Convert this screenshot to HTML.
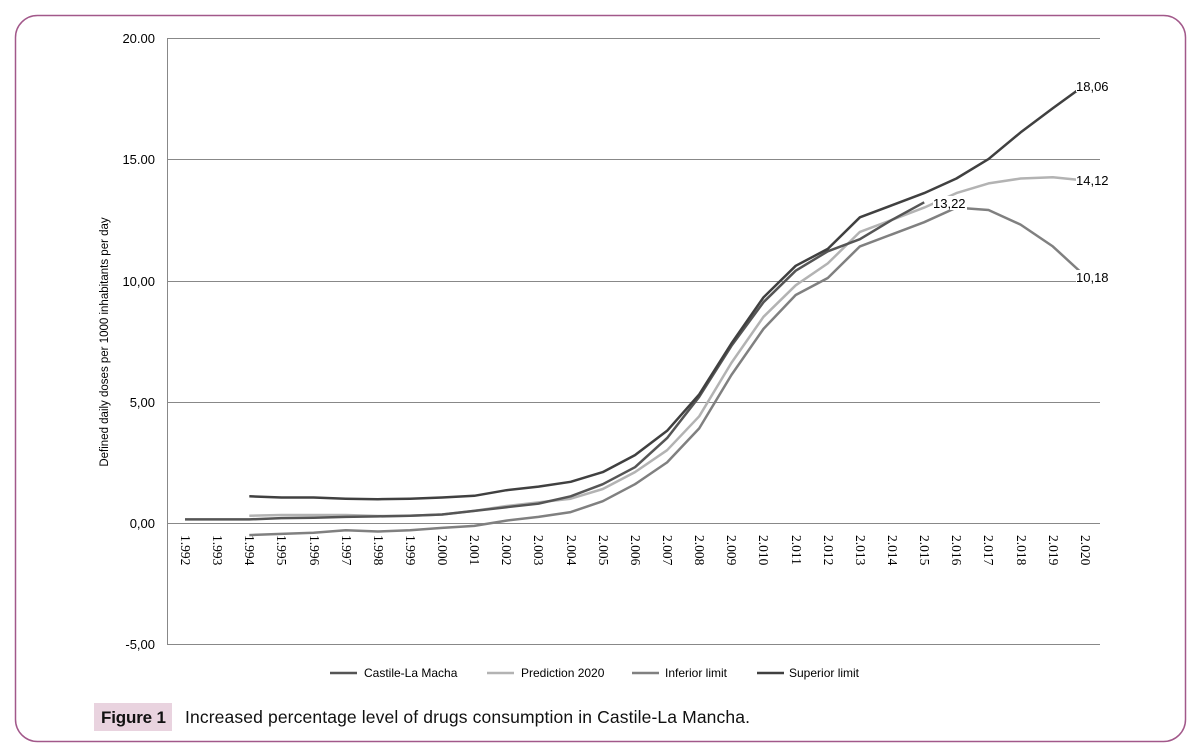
<!DOCTYPE html><html><head><style>
body{margin:0;background:#fff;width:1200px;height:749px;overflow:hidden;font-family:"Liberation Sans",Arial,sans-serif}
</style></head><body>
<svg width="1200" height="749" xmlns="http://www.w3.org/2000/svg">
<rect x="15.5" y="15.5" width="1170" height="726" rx="22" fill="none" stroke="#a2588a" stroke-width="1.5"/>
<g stroke="#888" stroke-width="1">
<line x1="167" y1="38.5" x2="1100" y2="38.5"/>
<line x1="167" y1="159.5" x2="1100" y2="159.5"/>
<line x1="167" y1="281.5" x2="1100" y2="281.5"/>
<line x1="167" y1="402.5" x2="1100" y2="402.5"/>
<line x1="167" y1="523.5" x2="1100" y2="523.5"/>
<line x1="167" y1="644.5" x2="1100" y2="644.5"/>
<line x1="167.5" y1="38" x2="167.5" y2="644"/>
</g>
<g font-size="13" text-anchor="end" fill="#000">
<text x="155" y="43">20.00</text><text x="155" y="164">15.00</text><text x="155" y="286">10,00</text>
<text x="155" y="407">5,00</text><text x="155" y="528">0,00</text><text x="155" y="649">-5,00</text>
</g>
<text transform="translate(108,342) rotate(-90)" font-size="11.5" text-anchor="middle">Defined daily doses per 1000 inhabitants per day</text>
<g font-family="Liberation Serif,serif" font-size="13.5" fill="#000">
<text transform="translate(181,535) rotate(90)">1.992</text><text transform="translate(213,535) rotate(90)">1.993</text>
<text transform="translate(245,535) rotate(90)">1.994</text><text transform="translate(277,535) rotate(90)">1.995</text>
<text transform="translate(310,535) rotate(90)">1.996</text><text transform="translate(342,535) rotate(90)">1.997</text>
<text transform="translate(374,535) rotate(90)">1.998</text><text transform="translate(406,535) rotate(90)">1.999</text>
<text transform="translate(438,535) rotate(90)">2.000</text><text transform="translate(470,535) rotate(90)">2.001</text>
<text transform="translate(502,535) rotate(90)">2.002</text><text transform="translate(534,535) rotate(90)">2.003</text>
<text transform="translate(567,535) rotate(90)">2.004</text><text transform="translate(599,535) rotate(90)">2.005</text>
<text transform="translate(631,535) rotate(90)">2.006</text><text transform="translate(663,535) rotate(90)">2.007</text>
<text transform="translate(695,535) rotate(90)">2.008</text><text transform="translate(727,535) rotate(90)">2.009</text>
<text transform="translate(759,535) rotate(90)">2.010</text><text transform="translate(792,535) rotate(90)">2.011</text>
<text transform="translate(824,535) rotate(90)">2.012</text><text transform="translate(856,535) rotate(90)">2.013</text>
<text transform="translate(888,535) rotate(90)">2.014</text><text transform="translate(920,535) rotate(90)">2.015</text>
<text transform="translate(952,535) rotate(90)">2.016</text><text transform="translate(984,535) rotate(90)">2.017</text>
<text transform="translate(1017,535) rotate(90)">2.018</text><text transform="translate(1049,535) rotate(90)">2.019</text>
<text transform="translate(1081,535) rotate(90)">2.020</text>
</g>
<g fill="none" stroke-width="2.5" stroke-linejoin="round">
<polyline stroke="#b3b3b3" points="249.3,515.7 281.4,515 313.6,515 345.7,515 377.8,516 410,515.7 442.1,514.5 474.3,510.9 506.4,506 538.5,502.4 570.7,498.7 602.8,489 635,472.1 667.1,450.2 699.2,416.3 731.4,362.9 763.5,316.8 795.7,285.3 827.8,263.4 859.9,231.9 892.1,219.8 924.2,207.6 956.4,193.1 988.5,183.4 1020.6,178.5 1052.8,177.3 1085,180.5"/>
<polyline stroke="#808080" points="249.3,535.1 281.4,533.9 313.6,532.7 345.7,530.3 377.8,531.5 410,530.3 442.1,527.9 474.3,525.9 506.4,520.6 538.5,516.9 570.7,512.1 602.8,501.2 635,484.2 667.1,462.4 699.2,428.4 731.4,375 763.5,328.9 795.7,295 827.8,278 859.9,246.4 892.1,234.3 924.2,222.2 956.4,207.6 988.5,210 1020.6,224.6 1052.8,246.4 1085,276"/>
<polyline stroke="#555" points="185,519.4 217.1,519.4 249.3,519.4 281.4,518.1 313.6,517.7 345.7,516.9 377.8,516.4 410,515.7 442.1,514.5 474.3,510.9 506.4,507.2 538.5,503.6 570.7,496.3 602.8,484.2 635,467.2 667.1,438.1 699.2,396.8 731.4,345.9 763.5,302.2 795.7,270.7 827.8,251.3 859.9,239.2 892.1,219.8 924.2,202.3"/>
<polyline stroke="#404040" points="249.3,496.3 281.4,497.5 313.6,497.5 345.7,498.7 377.8,499.2 410,498.7 442.1,497.5 474.3,495.8 506.4,490.2 538.5,486.6 570.7,481.8 602.8,472.1 635,455.1 667.1,430.8 699.2,394.4 731.4,343.5 763.5,297.4 795.7,265.8 827.8,248.9 859.9,217.3 892.1,205.2 924.2,193.1 956.4,178.5 988.5,159.1 1020.6,132.4 1052.8,108.2 1085,84.9"/>
</g>
<g font-size="13" fill="#000">
<rect x="1076" y="78" width="34" height="14" fill="#fff"/><text x="1076" y="91">18,06</text>
<rect x="1076" y="173" width="34" height="14" fill="#fff"/><text x="1076" y="185">14,12</text>
<rect x="1076" y="270" width="34" height="14" fill="#fff"/><text x="1076" y="282">10,18</text>
<rect x="933" y="196" width="34" height="14" fill="#fff"/><text x="933" y="208">13,22</text>
</g>
<g stroke-width="2.5">
<line x1="330" y1="673" x2="357" y2="673" stroke="#555"/>
<line x1="487" y1="673" x2="514" y2="673" stroke="#b3b3b3"/>
<line x1="632" y1="673" x2="659" y2="673" stroke="#808080"/>
<line x1="757" y1="673" x2="784" y2="673" stroke="#404040"/>
</g>
<g font-size="12" fill="#000">
<text x="364" y="677">Castile-La Macha</text>
<text x="521" y="677">Prediction 2020</text>
<text x="665" y="677">Inferior limit</text>
<text x="789" y="677">Superior limit</text>
</g>
<rect x="94" y="703" width="78" height="28" fill="#e9d3df"/>
<text x="101" y="723" font-size="17" font-weight="bold" fill="#111" textLength="65">Figure 1</text>
<text x="185" y="723" font-size="17.5" fill="#111" textLength="565">Increased percentage level of drugs consumption in Castile-La Mancha.</text>
</svg>
</body></html>
